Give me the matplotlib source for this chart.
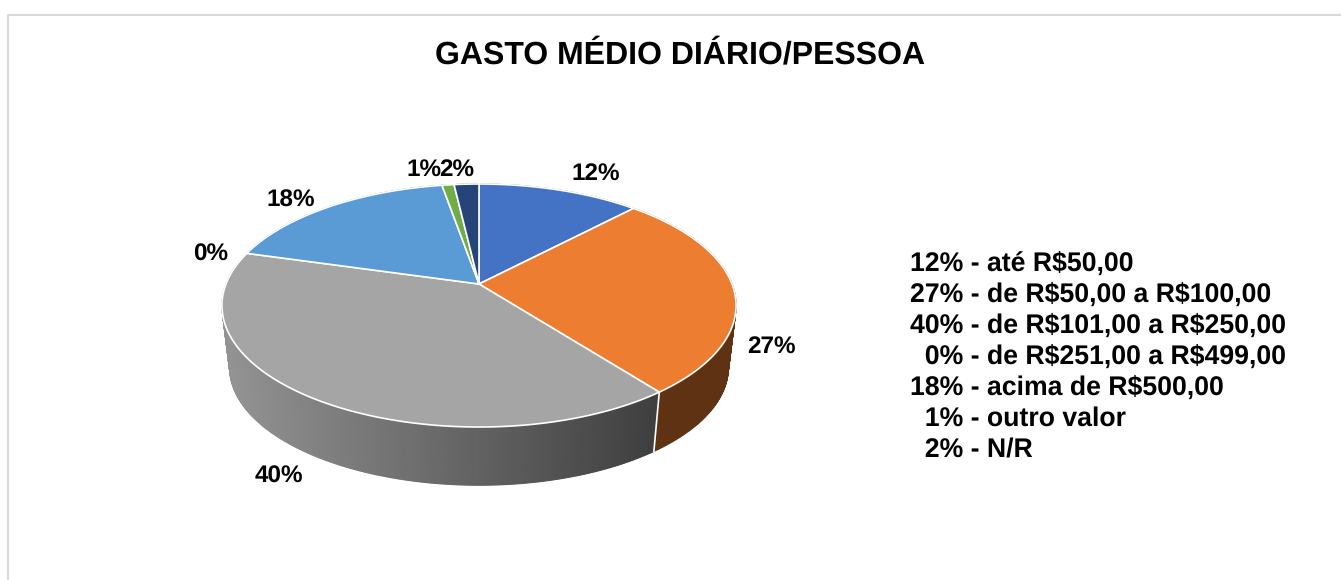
import numpy as np
from matplotlib import pyplot as plt
from matplotlib.colors import to_rgb

plt.rcParams['font.family'] = ['Liberation Sans', 'DejaVu Sans']
plt.rcParams['text.hinting'] = 'no_hinting'

title = 'GASTO MÉDIO DIÁRIO/PESSOA'
values = [12.1, 27.4, 39.9, 0, 17.85, 0.9, 1.85]
pct_labels = ['12%', '27%', '40%', '0%', '18%', '1%', '2%']
colors = ['#4472c4', '#ed7d31', '#a5a5a5', '#ffc000', '#5b9bd5', '#70ad47', '#264478']
side_colors = ['#2a4476', '#5f3214', '#636363', '#997300', '#365d80', '#43682a', '#162948']
legend_lines = ['12% - até R$50,00',
                '27% - de R$50,00 a R$100,00',
                '40% - de R$101,00 a R$250,00',
                '  0% - de R$251,00 a R$499,00',
                '18% - acima de R$500,00',
                '  1% - outro valor',
                '  2% - N/R']

# pie geometry, in pixels of the figure
cx, cy = 479, 284
rx, ry, k = 253, 117.7, 0.177
wall_y, wall_s = 346.5, 0.97

label_pos = [(596, 174), (771, 347), (279, 477), (210.5, 255), (291, 201), (424, 169.5), (457, 169.5)]


def top_edge(th):
    # tilted circle, the far side is squeezed a bit
    w = 1 + k * np.cos(th)
    return cx + rx * np.sin(th) / w, cy - ry * np.cos(th) / w


def low_edge(th):
    x, y = top_edge(th)
    return cx + wall_s * (x - cx), wall_y + wall_s * (y - cy)


fig = plt.figure('Gasto medio', figsize=(13.41, 5.8), dpi=100)
ax = fig.add_axes([0, 0, 1, 1])
ax.set_xlim(0, 1341)
ax.set_ylim(580, 0)
ax.axis('off')

# frame of the chart, only top and left are in the picture
ax.plot([8.5, 8.5, 1341], [580, 14.5, 14.5], color='#d9d9d9', lw=1.5, zorder=1)

edges = 2 * np.pi * np.cumsum([0] + values) / sum(values)

# side wall
dark = np.array(to_rgb('#3f3f3f'))
light = np.array(to_rgb('#939393'))
for i in range(len(values)):
    if values[i] == 0:
        continue
    ths = np.linspace(edges[i], edges[i + 1], max(int(values[i] * 8), 2))
    xt, yt = top_edge(ths)
    xb, yb = low_edge(ths)
    for j in range(len(ths) - 1):
        c = side_colors[i]
        if i == 2:
            f = np.clip((xt[j] - 225) / (655 - 225), 0, 1)
            c = tuple(light + (dark - light) * f)
        ax.fill([xt[j], xt[j + 1], xb[j + 1], xb[j]], [yt[j], yt[j + 1], yb[j + 1], yb[j]],
                color=c, lw=0.8, zorder=2)
    # white seam between the walls
    if i == 1:
        ax.plot([xt[-1], xb[-1]], [yt[-1], yb[-1]], color='white', lw=1.2, zorder=3)

# top face
for i in range(len(values)):
    if values[i] == 0:
        continue
    ths = np.linspace(edges[i], edges[i + 1], max(int(values[i] * 8), 4))
    x, y = top_edge(ths)
    ax.fill(np.r_[cx, x], np.r_[cy, y], facecolor=colors[i], edgecolor='white', lw=1.2,
            joinstyle='round', zorder=4)

for lab, pos in zip(pct_labels, label_pos):
    ax.text(pos[0], pos[1], lab, fontsize=17.5, fontweight='bold', ha='center', va='center', zorder=5)

ax.text(680, 56.5, title, fontsize=23, fontweight='bold', ha='center', va='center')

for n, line in enumerate(legend_lines):
    ax.text(910, 264 + 31 * n, line, fontsize=19.2, fontweight='bold', ha='left', va='center', parse_math=False)

plt.savefig('out.png', dpi=100)
